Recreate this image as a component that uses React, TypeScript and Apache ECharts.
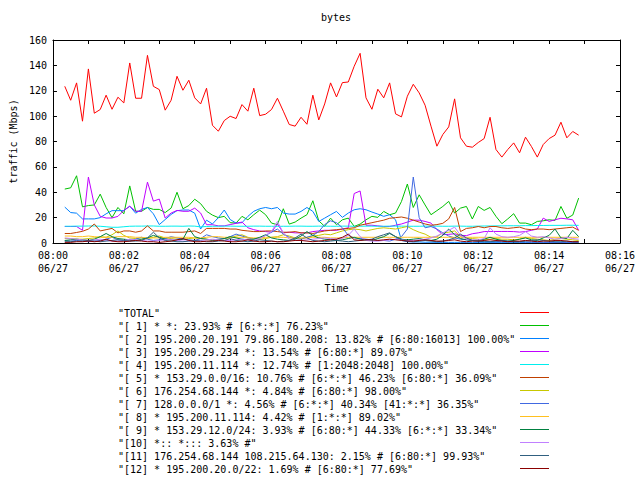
import React, { useEffect, useRef } from "react";
import * as echarts from "echarts";

const FONT = "DejaVu Sans Mono";

const TITLE = "bytes";
const Y_NAME = "traffic (Mbps)";
const X_NAME = "Time";
const TICK_LABELS = ["08:00", "08:02", "08:04", "08:06", "08:08", "08:10", "08:12", "08:14", "08:16"];
const DATE_LABEL = "06/27";

// samples every 10 s, starting at 08:00:20
const SAMPLE_START_SEC = 20;
const SAMPLE_STEP_SEC = 10;

const SERIES_NAMES = [
  "TOTAL",
  "[ 1] * *: 23.93% # [6:*:*] 76.23%",
  "[ 2] 195.200.20.191 79.86.180.208: 13.82% # [6:80:16013] 100.00%",
  "[ 3] 195.200.29.234 *: 13.54% # [6:80:*] 89.07%",
  "[ 4] 195.200.11.114 *: 12.74% # [1:2048:2048] 100.00%",
  "[ 5] * 153.29.0.0/16: 10.76% # [6:*:*] 46.23% [6:80:*] 36.09%",
  "[ 6] 176.254.68.144 *: 4.84% # [6:80:*] 98.00%",
  "[ 7] 128.0.0.0/1 *: 4.56% # [6:*:*] 40.34% [41:*:*] 36.35%",
  "[ 8] * 195.200.11.114: 4.42% # [1:*:*] 89.02%",
  "[ 9] * 153.29.12.0/24: 3.93% # [6:80:*] 44.33% [6:*:*] 33.34%",
  "[10] *:: *::: 3.63% #",
  "[11] 176.254.68.144 108.215.64.130: 2.15% # [6:80:*] 99.93%",
  "[12] * 195.200.20.0/22: 1.69% # [6:80:*] 77.69%",
];

const SERIES_COLORS = [
  "#ff0000", "#00c000", "#0080ff", "#c000ff", "#00eeee", "#c04000", "#c8c800",
  "#4169e1", "#ffc020", "#008040", "#c080ff", "#306080", "#8b0000",
];

const TOTAL = [
  123.5, 112.5, 126.2, 96.0, 137.2, 102.3, 105.2, 116.5, 105.4, 114.9,
  110.4, 141.9, 114.1, 114.1, 147.9, 123.5, 120.9, 104.7, 112.5, 131.4,
  120.4, 128.3, 114.4, 109.6, 122.0, 92.8, 88.1, 96.5, 99.9, 98.1,
  109.1, 103.9, 122.0, 100.4, 101.5, 105.2, 114.1, 103.9, 93.4, 92.1,
  99.1, 93.6, 116.5, 97.0, 109.6, 126.2, 115.1, 126.4, 126.9, 139.3,
  149.5, 114.4, 105.4, 121.2, 114.4, 126.2, 101.8, 99.4, 115.7, 125.1,
  118.3, 108.6, 92.1, 76.3, 85.5, 91.5, 113.6, 82.9, 76.3, 75.5,
  79.2, 82.3, 99.1, 73.7, 67.7, 73.7, 78.9, 71.1, 83.4, 76.1,
  67.7, 77.6, 82.3, 85.0, 95.2, 82.9, 87.9, 85.0,
];

const S1 = [
  42.5, 43.5, 53, 28.5, 29.5, 30, 38.5, 28, 20, 28,
  23, 45, 25, 25, 28, 26.5, 26.5, 24, 27.5, 40,
  27, 29.5, 34.5, 31, 25, 22, 20, 21, 16, 15.7,
  21, 18.3, 22.3, 25.9, 22.3, 15.7, 14.4, 27, 14.9, 16.5,
  19.6, 22.3, 33.3, 17.5, 13.1, 19.6, 14.4, 18.3, 19.6, 13.1,
  14.9, 18.3, 21, 20.2, 24.9, 22.3, 23.6, 32.7, 46.5, 28,
  38, 30, 22.3, 25.5, 28.8, 32.8, 23.6, 27.5, 28.8, 18.9,
  28.8, 25.7, 28, 21, 15.2, 19, 23.1, 15.7, 15.7, 14.4,
  17, 17.5, 18.3, 17.8, 28.8, 19.5, 22, 35.4,
];

const S2 = [
  28.3, 24, 23.5, 19, 19, 19, 20, 23, 25.5, 25.5,
  25.5, 29, 23.5, 26.5, 28, 23, 14.5, 18.5, 22.5, 25.5,
  26, 26, 23.5, 11, 18, 15, 20, 26, 18.5, 15.7,
  16, 21, 25, 27, 28, 27, 28, 23.6, 22.8, 22.8,
  24.9, 28, 24.9, 17, 19.6, 22.3, 24.9, 20.2, 23.6, 26.2,
  27, 26.2, 24.4, 22.8, 21, 22.3, 18.3, 2, 1, 0.8,
  0.8, 0.6, 0.6, 0.5, 0.5, 0.5, 0.5, 0.5, 0.5, 0.5,
  0.5, 0.5, 0.5, 0.5, 0.5, 0.5, 0.5, 0.5, 0.5, 0.5,
  0.5, 0.5, 0.5, 0.5, 0.5, 0.5, 0.5, 0.5,
];

const S3 = [
  13, 13, 13, 10, 52, 30, 21, 19.7, 19.7, 21,
  25.7, 29, 25, 25, 48, 33, 34.6, 19.7, 23.6, 25.7,
  25, 25, 27.5, 23.6, 14.4, 14.4, 13.5, 13.5, 14.5, 15.5,
  16.5, 12, 10.5, 9.5, 9, 8.5, 15, 8, 8.5, 8,
  8, 8, 9, 9.5, 10, 10, 10, 11, 12, 39,
  41, 14, 14, 13.5, 13, 13, 14, 15, 16.5, 18,
  18, 17, 15.7, 10.5, 6.6, 6.8, 7.3, 6, 5.8, 7.3,
  8, 9, 9.1, 9.1, 9.1, 9.1, 9, 8.6, 9, 10,
  11, 19.6, 17, 18.3, 19.5, 19, 18.3, 10,
];

const S4 = [
  13.2, 13.2, 13.3, 13.3, 13.4, 13.4, 13.2, 12.8, 12.4, 12.4,
  12.8, 13.2, 13.3, 13.3, 13.4, 13.4, 13.2, 13.2, 13.3, 13.3,
  13.2, 13.4, 13.3, 12.7, 13.0, 13.2, 13.2, 13.3, 13.3, 13.2,
  13.2, 13.2, 13.3, 13.3, 13.2, 13.2, 13.1, 13.2, 13.2, 13.3,
  13.3, 13.2, 13.2, 13.3, 13.3, 13.2, 13.2, 13.3, 13.3, 13.2,
  13.2, 13.3, 13.3, 13.2, 13.2, 13.3, 13.3, 13.3, 13.2, 13.2,
  13.2, 13.3, 13.3, 13.3, 13.2, 13.2, 13.3, 13.3, 13.2, 13.2,
  13.3, 13.4, 13.4, 13.5, 13.5, 13.6, 13.6, 13.6, 13.7, 13.7,
  13.8, 13.8, 13.9, 13.9, 13.9, 14.0, 14.0, 13.9,
];

const S5 = [
  7.5, 7.5, 8.3, 9.2, 11, 15, 9.5, 10.5, 11.5, 8,
  9.5, 9.5, 8.5, 9.5, 13.5, 9.5, 9.5, 8.5, 8.5, 8.5,
  8.5, 9, 9.5, 7.5, 11.5, 11.5, 11.5, 11.5, 11, 11,
  10, 9.5, 9, 9, 9.5, 9.5, 9, 8.5, 8.5, 9,
  8, 8, 7.5, 8.5, 9.5, 10, 10.5, 11, 11.5, 12,
  14, 15, 16, 17, 18, 19.5, 20, 20.5, 19.5, 18,
  16.5, 15, 14, 14.5, 15.5, 19, 28, 9, 11.5, 12,
  13, 12, 13, 13, 12, 11.5, 12, 12.5, 11, 10.5,
  11, 11, 10.5, 11, 11.5, 12, 12.5, 10,
];

const S6 = [
  3.5, 3.5, 3.0, 3.0, 3.5, 4.0, 5.0, 4.5, 6.5, 9.5,
  6.0, 4.0, 3.5, 3.0, 3.5, 4.5, 5.5, 4.0, 3.5, 3.0,
  3.0, 3.5, 4.0, 3.5, 3.0, 2.5, 3.0, 3.5, 4.0, 5.5,
  6.5, 4.5, 3.5, 3.0, 3.5, 4.5, 5.0, 6.5, 5.5, 4.0,
  3.5, 4.5, 5.5, 6.0, 7.0, 6.5, 8.0, 9.5, 10.5, 11.0,
  10.5, 9.5, 10.5, 11.5, 12.0, 11.5, 11.0, 12.0, 13.0, 10.5,
  8.5, 7.0, 4.5, 5.0, 8.0, 8.5, 9.5, 5.0, 4.0, 3.5,
  3.0, 2.5, 3.0, 3.5, 3.0, 3.0, 2.5, 3.0, 4.5, 3.5,
  3.0, 2.5, 2.0, 3.0, 3.5, 3.0, 2.5, 2.0,
];

const S7 = [
  2.0, 1.5, 2.0, 1.5, 1.0, 1.5, 2.0, 3.0, 4.5, 2.5,
  2.0, 1.5, 3.0, 4.5, 3.0, 2.0, 2.5, 3.5, 5.0, 4.0,
  3.0, 2.5, 2.0, 3.5, 6.5, 5.0, 4.0, 3.5, 5.0, 7.0,
  5.5, 4.0, 3.0, 4.0, 6.0, 8.5, 11.0, 7.0, 4.5, 3.5,
  3.0, 4.5, 6.0, 9.0, 14.5, 17.5, 16.0, 12.0, 6.0, 4.0,
  3.5, 3.0, 2.5, 2.0, 2.0, 1.5, 3.0, 5.0, 11.0, 52.0,
  20.0, 12.0, 13.0, 11.0, 8.0, 5.5, 4.0, 3.0, 2.5, 2.0,
  1.5, 1.5, 1.0, 1.0, 1.5, 1.0, 1.0, 1.0, 0.8, 0.8,
  0.8, 0.6, 0.6, 0.6, 0.5, 0.5, 0.5, 0.5,
];

const S8 = [
  5.5, 5.5, 5.0, 5.0, 5.5, 5.0, 4.5, 4.5, 4.5, 5.0,
  5.0, 5.0, 4.5, 4.5, 4.0, 4.0, 4.0, 4.5, 4.5, 4.5,
  4.5, 4.5, 4.0, 4.0, 4.5, 5.0, 5.0, 4.5, 4.5, 4.5,
  4.5, 4.0, 4.0, 4.0, 4.5, 4.5, 4.5, 4.5, 4.0, 4.0,
  4.0, 4.0, 4.5, 4.5, 4.5, 4.0, 4.0, 4.0, 4.5, 4.5,
  4.5, 4.5, 4.5, 4.5, 4.5, 4.5, 4.5, 4.5, 4.5, 4.5,
  4.5, 4.5, 4.5, 4.5, 4.5, 4.5, 4.5, 4.5, 4.5, 4.5,
  4.5, 4.5, 4.5, 4.5, 4.5, 4.5, 4.5, 4.5, 4.5, 4.5,
  4.5, 4.5, 4.5, 4.5, 4.5, 4.5, 4.5, 4.5,
];

const S9 = [
  2.0, 2.5, 3.0, 2.5, 2.0, 3.0, 5.0, 7.5, 5.0, 3.5,
  3.0, 2.5, 2.0, 3.0, 4.0, 6.0, 4.5, 3.0, 2.5, 2.0,
  3.0, 11.5, 5.0, 3.5, 3.0, 2.0, 2.5, 3.5, 5.0, 4.0,
  3.0, 2.5, 3.0, 4.5, 6.5, 4.0, 3.0, 2.5, 2.0, 3.0,
  5.5, 9.0, 6.0, 4.0, 3.0, 2.5, 2.0, 2.5, 3.5, 4.5,
  3.0, 2.5, 2.0, 3.5, 5.0, 7.5, 5.0, 3.0, 2.5, 3.0,
  3.5, 2.5, 2.0, 3.0, 6.0, 11.0, 6.5, 3.5, 2.5, 2.0,
  2.0, 3.0, 4.5, 3.0, 2.0, 1.5, 2.0, 3.0, 4.0, 2.5,
  2.0, 4.0, 6.0, 11.0, 4.0, 3.5, 10.0, 5.0,
];

const S10 = [
  4.0, 3.5, 3.0, 2.5, 2.0, 2.5, 3.0, 2.0, 1.5, 1.5,
  2.0, 3.0, 2.5, 2.0, 1.5, 1.5, 2.0, 2.5, 3.0, 2.0,
  1.5, 1.5, 2.0, 2.0, 2.5, 3.0, 2.5, 2.0, 2.0, 2.5,
  3.0, 2.5, 2.0, 3.5, 6.0, 9.0, 17.0, 8.0, 3.0, 2.0,
  2.0, 2.5, 3.0, 3.5, 4.0, 3.5, 3.0, 3.5, 6.0, 11.0,
  5.0, 2.0, 1.5, 1.5, 2.0, 2.5, 3.0, 2.5, 2.0, 2.0,
  2.5, 3.0, 4.0, 5.5, 8.0, 10.0, 12.5, 6.0, 3.0, 2.5,
  2.5, 3.5, 12.0, 7.0, 5.0, 4.5, 5.0, 6.0, 9.0, 5.5,
  4.5, 5.0, 4.0, 3.0, 3.5, 4.5, 3.5, 3.0,
];

const S11 = [
  1.0, 1.0, 1.5, 1.5, 2.0, 1.5, 1.0, 1.5, 2.0, 2.5,
  2.0, 1.5, 1.5, 2.0, 4.0, 8.5, 4.0, 2.0, 1.5, 1.0,
  1.0, 1.5, 2.0, 1.5, 1.0, 1.0, 1.5, 2.0, 3.5, 2.0,
  1.5, 1.0, 1.5, 2.5, 2.0, 1.5, 1.0, 1.5, 2.0, 4.0,
  7.0, 4.0, 2.0, 1.5, 1.0, 1.5, 2.0, 1.5, 1.0, 1.5,
  2.0, 2.5, 3.0, 5.0, 6.5, 8.0, 5.0, 2.5, 1.5, 1.0,
  1.5, 2.0, 1.5, 1.0, 1.5, 2.5, 4.0, 7.0, 4.0, 2.0,
  1.5, 1.0, 1.0, 1.5, 2.0, 1.5, 1.0, 1.0, 1.5, 2.0,
  2.5, 2.0, 1.5, 1.0, 1.0, 1.5, 1.0, 1.0,
];

const S12 = [
  0.5, 0.5, 1.0, 1.0, 1.5, 1.0, 1.5, 3.0, 1.5, 1.0,
  1.0, 1.5, 2.0, 1.5, 1.0, 1.0, 0.5, 1.0, 1.5, 2.5,
  3.5, 2.0, 1.0, 1.0, 1.5, 1.5, 2.0, 1.5, 1.0, 1.0,
  1.5, 2.5, 1.5, 1.0, 1.0, 1.5, 1.0, 1.0, 1.5, 2.0,
  2.0, 1.5, 1.0, 1.5, 2.0, 2.5, 3.0, 4.5, 7.0, 2.5,
  2.0, 2.5, 2.5, 2.0, 2.5, 3.0, 2.5, 2.0, 1.5, 1.5,
  2.0, 2.5, 2.0, 1.5, 1.5, 2.0, 2.5, 1.5, 1.0, 1.5,
  1.5, 2.0, 2.5, 2.0, 1.5, 1.0, 1.5, 1.5, 2.0, 1.5,
  1.0, 1.5, 1.5, 2.0, 2.0, 1.5, 1.0, 1.0,
];

const SERIES_VALUES = [TOTAL, S1, S2, S3, S4, S5, S6, S7, S8, S9, S10, S11, S12];

function buildOption() {
  const series = SERIES_VALUES.map((vals, k) => ({
    name: SERIES_NAMES[k],
    type: "line",
    symbol: "none",
    smooth: false,
    silent: true,
    lineStyle: { width: 1, color: SERIES_COLORS[k] },
    itemStyle: { color: SERIES_COLORS[k] },
    data: vals.map((v, i) => [SAMPLE_START_SEC + SAMPLE_STEP_SEC * i, v]),
  }));

  const textBase = { fontFamily: FONT, fontSize: 10, color: "#000" };
  const tick = { show: true, inside: true, length: 4, lineStyle: { color: "#000", width: 1 } };
  const axisLine = { show: true, onZero: false, lineStyle: { color: "#000", width: 1 } };

  const legendGraphics: any[] = [];
  SERIES_NAMES.forEach((name, k) => {
    const y = 312.5 + 13 * k;
    legendGraphics.push({
      type: "text",
      x: 118,
      y: y + 1,
      silent: true,
      style: {
        text: `"${name}"`,
        font: `10px "${FONT}"`,
        fill: "#000",
        align: "left",
        verticalAlign: "middle",
      },
    });
    legendGraphics.push({
      type: "line",
      silent: true,
      shape: { x1: 520, y1: y, x2: 549, y2: y },
      style: { stroke: SERIES_COLORS[k], lineWidth: 1 },
    });
  });

  return {
    animation: false,
    backgroundColor: "#fff",
    title: {
      text: TITLE,
      left: 321,
      top: 12,
      padding: 0,
      textStyle: { ...textBase, fontWeight: "normal" },
    },
    grid: { left: 52, right: 20, top: 40, bottom: 237, containLabel: false },
    xAxis: [
      {
        type: "value",
        min: 0,
        max: 960,
        interval: 60,
        position: "bottom",
        axisLine,
        axisTick: tick,
        splitLine: { show: false },
        axisLabel: {
          ...textBase,
          margin: 6,
          lineHeight: 13,
          showMinLabel: true,
          showMaxLabel: true,
          hideOverlap: false,
          formatter: (v: number) =>
            v % 120 === 0 ? `${TICK_LABELS[v / 120]}\n${DATE_LABEL}` : "",
        },
        name: X_NAME,
        nameLocation: "middle",
        nameGap: 40,
        nameTextStyle: textBase,
      },
      {
        type: "value",
        min: 0,
        max: 960,
        interval: 60,
        position: "top",
        axisLine,
        axisTick: tick,
        splitLine: { show: false },
        axisLabel: { show: false },
      },
    ],
    yAxis: [
      {
        type: "value",
        min: 0,
        max: 160,
        interval: 20,
        position: "left",
        axisLine,
        axisTick: tick,
        splitLine: { show: false },
        axisLabel: { ...textBase, margin: 6 },
        name: Y_NAME,
        nameLocation: "middle",
        nameRotate: 90,
        nameGap: 34,
        nameTextStyle: textBase,
      },
      {
        type: "value",
        min: 0,
        max: 160,
        interval: 20,
        position: "right",
        axisLine,
        axisTick: tick,
        splitLine: { show: false },
        axisLabel: { show: false },
      },
    ],
    series,
    graphic: legendGraphics,
  };
}

export default function App() {
  const ref = useRef<HTMLDivElement>(null);
  useEffect(() => {
    if (!ref.current) return;
    const chart = echarts.init(ref.current, undefined, { renderer: "svg" });
    chart.setOption(buildOption() as any);
    return () => chart.dispose();
  }, []);
  return (
    <div
      ref={ref}
      style={{ position: "fixed", left: 0, top: 0, width: 640, height: 480, background: "#fff" }}
    />
  );
}
